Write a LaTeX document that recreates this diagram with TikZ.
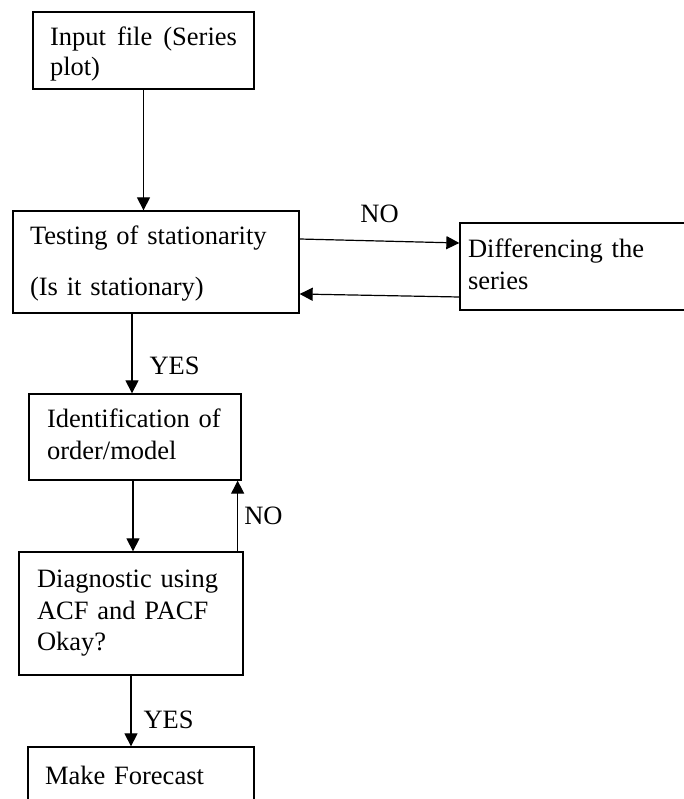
\documentclass[tikz,border=0pt]{standalone}
\usepackage{fontspec}
\setmainfont{Liberation Serif}
\usetikzlibrary{arrows.meta,positioning}

\begin{document}
\begin{tikzpicture}[x=1pt,y=-1pt,
    box/.style={draw,line width=1.3pt,align=left,inner ysep=0pt,font=\fontsize{26.5}{32}\selectfont},
    arr/.style={line width=1.2pt,-{Triangle[length=13pt,width=13pt]}},
    lbl/.style={inner sep=0pt,font=\fontsize{26.5}{32}\selectfont}]
  \useasboundingbox (0,0) rectangle (683,799);

  \node[box,text width=187pt,inner xsep=17pt,minimum height=77pt] (input) at (143.5,50.5) {\rule{0pt}{24.8pt}Input\hfill file\hfill (Series\\[-2pt]plot)};
  \node[box,text width=252pt,inner xsep=17pt,minimum height=102pt] (test) at (156,262) {\rule{0pt}{22pt}Testing of stationarity\\[19pt](Is it stationary)};
  \node[box,text width=214pt,inner xsep=8pt,minimum height=87pt] (diff) at (575,266.5) {Differencing the\\series\rule[-5pt]{0pt}{5pt}};
  \node[box,text width=176pt,inner xsep=18pt,minimum height=86pt] (ident) at (135,437) {Identification~of\\order/model\rule[-5pt]{0pt}{5pt}};
  \node[box,text width=188pt,inner xsep=18pt,minimum height=123pt] (diag) at (131,613.5) {Diagnostic using\\[-0.5pt]ACF and PACF\\[-0.5pt]Okay?};
  \node[box,text width=192pt,inner xsep=17pt,minimum height=56pt] (fcast) at (141,775) {Make Forecast};

  \draw[arr] (input.south) -- (input.south |- test.north);

  \draw[arr] ([yshift=23pt]test.east) -- node[lbl,above=18pt] (no1) {NO} ([yshift=23.5pt]diff.west);
  \draw[arr] ([yshift=-30.5pt]diff.west) -- ([yshift=-32pt]test.east);

  \draw[arr] ([xshift=-3pt]ident.north |- test.south) -- node[lbl,pos=0.65,right=17pt] (yes1) {YES} ([xshift=-3pt]ident.north);
  \draw[arr] ([xshift=-2pt]ident.south) -- ([xshift=-2pt]ident.south |- diag.north);
  \draw[arr] ([xshift=-4pt]ident.south east |- diag.north) -- node[lbl,right=6pt] (no2) {NO} ([xshift=-4pt]ident.south east);

  \draw[arr] (diag.south) -- node[lbl,pos=0.62,right=12pt] (yes2) {YES} (diag.south |- fcast.north);
\end{tikzpicture}
\end{document}
